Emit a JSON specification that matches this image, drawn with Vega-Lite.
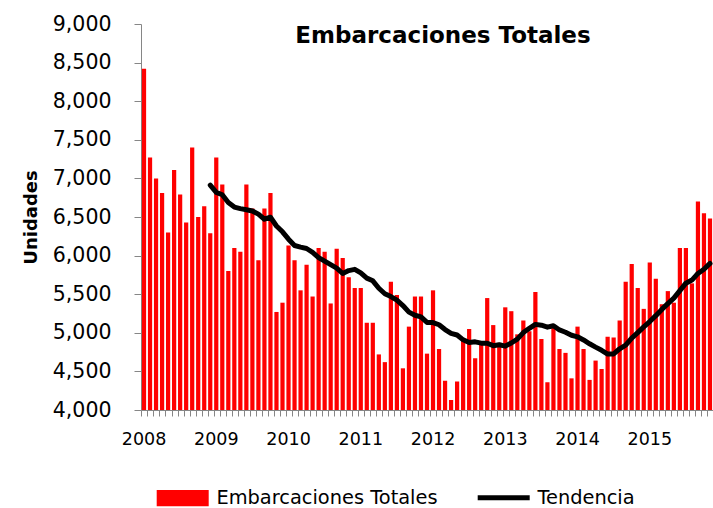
{
  "$schema": "https://vega.github.io/schema/vega-lite/v6.json",
  "autosize": {"type": "none"},
  "padding": {"left": 141, "top": 24, "right": 0, "bottom": 98},
  "width": 572,
  "height": 386,
  "background": "white",
  "config": {
    "view": {"stroke": null},
    "axis": {"domainColor": "#868686", "tickColor": "#868686", "grid": false, "labelColor": "#000000", "titleColor": "#000000", "labelFont": "DejaVu Sans", "titleFont": "DejaVu Sans"}
  },
  "title": {"text": "Embarcaciones Totales", "font": "DejaVu Sans", "fontSize": 23, "fontWeight": "bold", "anchor": "middle", "offset": -34, "dx": 16, "color": "#000000"},
  "data": {"values": [
      {"m": "2008-01", "v": 8420}, {"m": "2008-02", "v": 7270}, {"m": "2008-03", "v": 7000}, {"m": "2008-04", "v": 6810},
      {"m": "2008-05", "v": 6300}, {"m": "2008-06", "v": 7110}, {"m": "2008-07", "v": 6790}, {"m": "2008-08", "v": 6430},
      {"m": "2008-09", "v": 7400}, {"m": "2008-10", "v": 6500}, {"m": "2008-11", "v": 6640}, {"m": "2008-12", "v": 6290, "t": 6913},
      {"m": "2009-01", "v": 7270, "t": 6818}, {"m": "2009-02", "v": 6920, "t": 6788}, {"m": "2009-03", "v": 5800, "t": 6688}, {"m": "2009-04", "v": 6100, "t": 6629},
      {"m": "2009-05", "v": 6050, "t": 6608}, {"m": "2009-06", "v": 6920, "t": 6593}, {"m": "2009-07", "v": 6610, "t": 6578}, {"m": "2009-08", "v": 5940, "t": 6537},
      {"m": "2009-09", "v": 6610, "t": 6471}, {"m": "2009-10", "v": 6810, "t": 6497}, {"m": "2009-11", "v": 5270, "t": 6383}, {"m": "2009-12", "v": 5390, "t": 6308},
      {"m": "2010-01", "v": 6130, "t": 6213}, {"m": "2010-02", "v": 5940, "t": 6131}, {"m": "2010-03", "v": 5550, "t": 6110}, {"m": "2010-04", "v": 5880, "t": 6092},
      {"m": "2010-05", "v": 5470, "t": 6043}, {"m": "2010-06", "v": 6100, "t": 5975}, {"m": "2010-07", "v": 6050, "t": 5928}, {"m": "2010-08", "v": 5380, "t": 5882},
      {"m": "2010-09", "v": 6090, "t": 5838}, {"m": "2010-10", "v": 5970, "t": 5768}, {"m": "2010-11", "v": 5720, "t": 5806}, {"m": "2010-12", "v": 5580, "t": 5822},
      {"m": "2011-01", "v": 5580, "t": 5776}, {"m": "2011-02", "v": 5130, "t": 5708}, {"m": "2011-03", "v": 5130, "t": 5673}, {"m": "2011-04", "v": 4720, "t": 5577},
      {"m": "2011-05", "v": 4620, "t": 5506}, {"m": "2011-06", "v": 5660, "t": 5469}, {"m": "2011-07", "v": 5490, "t": 5423}, {"m": "2011-08", "v": 4540, "t": 5353},
      {"m": "2011-09", "v": 5080, "t": 5268}, {"m": "2011-10", "v": 5470, "t": 5227}, {"m": "2011-11", "v": 5470, "t": 5206}, {"m": "2011-12", "v": 4730, "t": 5135},
      {"m": "2012-01", "v": 5550, "t": 5133}, {"m": "2012-02", "v": 4790, "t": 5104}, {"m": "2012-03", "v": 4380, "t": 5042}, {"m": "2012-04", "v": 4130, "t": 4993},
      {"m": "2012-05", "v": 4370, "t": 4972}, {"m": "2012-06", "v": 4910, "t": 4909}, {"m": "2012-07", "v": 5050, "t": 4873}, {"m": "2012-08", "v": 4670, "t": 4883},
      {"m": "2012-09", "v": 4870, "t": 4866}, {"m": "2012-10", "v": 5450, "t": 4864}, {"m": "2012-11", "v": 5100, "t": 4833}, {"m": "2012-12", "v": 4870, "t": 4845},
      {"m": "2013-01", "v": 5330, "t": 4827}, {"m": "2013-02", "v": 5280, "t": 4868}, {"m": "2013-03", "v": 4980, "t": 4918}, {"m": "2013-04", "v": 5160, "t": 5003},
      {"m": "2013-05", "v": 5020, "t": 5058}, {"m": "2013-06", "v": 5530, "t": 5109}, {"m": "2013-07", "v": 4920, "t": 5098}, {"m": "2013-08", "v": 4360, "t": 5073},
      {"m": "2013-09", "v": 5100, "t": 5092}, {"m": "2013-10", "v": 4790, "t": 5037}, {"m": "2013-11", "v": 4740, "t": 5007}, {"m": "2013-12", "v": 4410, "t": 4968},
      {"m": "2014-01", "v": 5080, "t": 4948}, {"m": "2014-02", "v": 4790, "t": 4907}, {"m": "2014-03", "v": 4390, "t": 4858}, {"m": "2014-04", "v": 4640, "t": 4814},
      {"m": "2014-05", "v": 4530, "t": 4773}, {"m": "2014-06", "v": 4950, "t": 4725}, {"m": "2014-07", "v": 4940, "t": 4727}, {"m": "2014-08", "v": 5160, "t": 4793},
      {"m": "2014-09", "v": 5660, "t": 4840}, {"m": "2014-10", "v": 5890, "t": 4932}, {"m": "2014-11", "v": 5580, "t": 5002}, {"m": "2014-12", "v": 5310, "t": 5077},
      {"m": "2015-01", "v": 5910, "t": 5146}, {"m": "2015-02", "v": 5700, "t": 5222}, {"m": "2015-03", "v": 5370, "t": 5303}, {"m": "2015-04", "v": 5540, "t": 5378},
      {"m": "2015-05", "v": 5390, "t": 5450}, {"m": "2015-06", "v": 6100, "t": 5546}, {"m": "2015-07", "v": 6100, "t": 5643}, {"m": "2015-08", "v": 5640, "t": 5683},
      {"m": "2015-09", "v": 6700, "t": 5769}, {"m": "2015-10", "v": 6550, "t": 5824}, {"m": "2015-11", "v": 6480, "t": 5899}
  ]},
  "encoding": {
    "x": {
      "field": "m", "type": "ordinal",
      "scale": {"paddingInner": 0.3, "paddingOuter": 0.15},
      "axis": {"title": null, "labelAngle": 0, "labelOverlap": false, "tickSize": 6, "bandPosition": 0,
               "labelExpr": "substring(datum.label, 5, 7) == '01' ? substring(datum.label, 0, 4) : ''",
               "labelFontSize": 17.5, "labelPadding": 14, "labelBaseline": "top"}
    }
  },
  "layer": [
    {
      "mark": {"type": "bar"},
      "encoding": {
        "y": {
          "field": "v", "type": "quantitative",
          "scale": {"domain": [4000, 9000], "nice": false, "zero": false},
          "axis": {"values": [4000, 4500, 5000, 5500, 6000, 6500, 7000, 7500, 8000, 8500, 9000], "tickCount": 11, "format": ",.0f",
                   "labelOverlap": false, "tickSize": 7, "labelPadding": 23, "labelFontSize": 20.5,
                   "title": "Unidades", "titleFontSize": 18, "titleFontWeight": "bold", "titlePadding": 12}
        },
        "y2": {"datum": 4000},
        "color": {
          "datum": "Embarcaciones Totales", "type": "nominal",
          "scale": {"domain": ["Embarcaciones Totales", "Tendencia"], "range": ["#ff0000", "#000000"]},
          "legend": {
            "orient": "none", "legendX": 32, "legendY": 464, "direction": "horizontal", "title": null,
            "labelFont": "DejaVu Sans", "labelFontSize": 19.4, "labelColor": "#000000", "labelLimit": 500,
            "symbolSize": 2704, "columnPadding": 29, "labelOffset": 24,
            "encode": {"symbols": {"update": {
              "shape": {"signal": "datum.value === 'Tendencia' ? 'M-1,0H1' : 'M-1,-0.31H1V0.31H-1Z'"},
              "fill": {"signal": "datum.value === 'Tendencia' ? 'transparent' : '#ff0000'"},
              "stroke": {"signal": "datum.value === 'Tendencia' ? '#000000' : 'transparent'"},
              "strokeWidth": {"signal": "datum.value === 'Tendencia' ? 5 : 0"},
              "opacity": {"value": 1}
            }}}
          }
        }
      }
    },
    {
      "transform": [{"filter": "isValid(datum.t)"}],
      "mark": {"type": "line", "strokeWidth": 5, "strokeJoin": "round", "strokeCap": "round"},
      "encoding": {
        "y": {
          "field": "t", "type": "quantitative",
          "axis": {"values": [4000, 4500, 5000, 5500, 6000, 6500, 7000, 7500, 8000, 8500, 9000], "tickCount": 11, "format": ",.0f",
                   "labelOverlap": false, "tickSize": 7, "labelPadding": 23, "labelFontSize": 20.5,
                   "title": "Unidades", "titleFontSize": 18, "titleFontWeight": "bold", "titlePadding": 12}
        },
        "color": {"datum": "Tendencia", "type": "nominal"}
      }
    }
  ]
}
